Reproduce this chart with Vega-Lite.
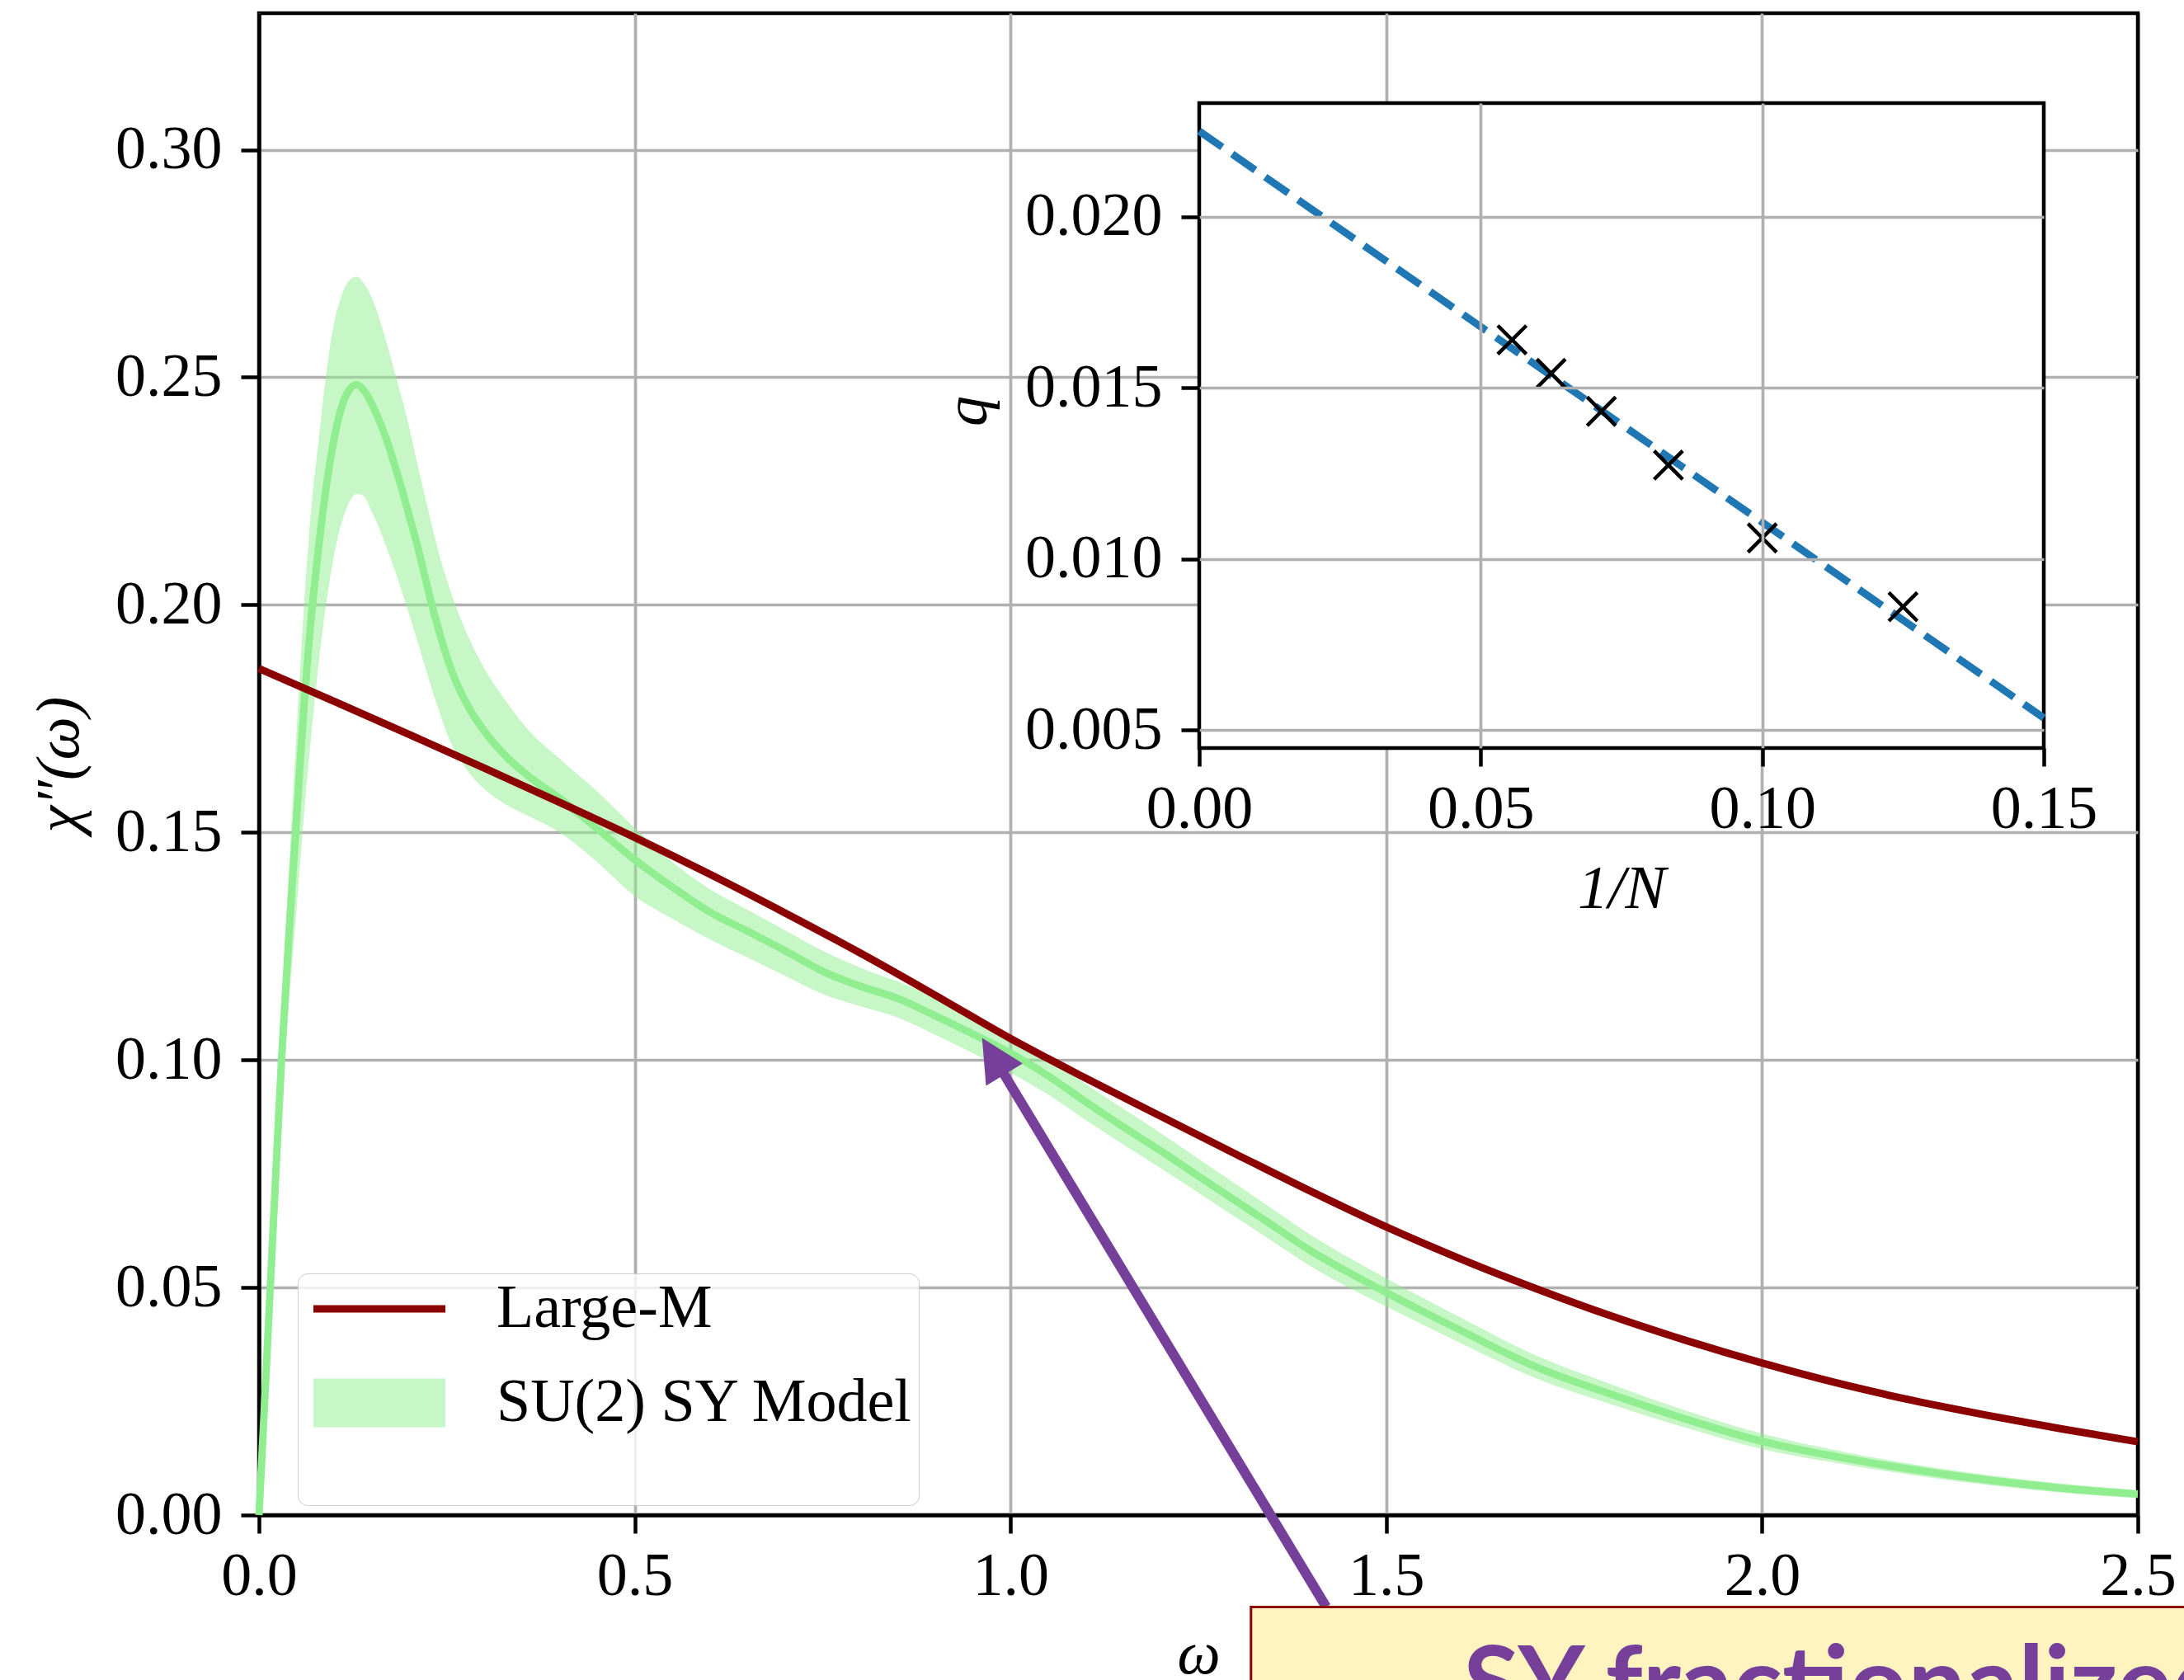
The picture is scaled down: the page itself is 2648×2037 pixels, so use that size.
{
  "$schema": "https://vega.github.io/schema/vega-lite/v6.json",
  "width": 2278,
  "height": 1821,
  "autosize": {"type": "none"},
  "padding": {"left": 314, "top": 16, "right": 56, "bottom": 200},
  "background": "white",
  "config": {
    "view": {"stroke": "black", "strokeWidth": 4.5},
    "font": "Liberation Serif",
    "axis": {
      "labelFont": "Liberation Serif", "labelFontSize": 74, "labelColor": "black",
      "titleFont": "Liberation Serif", "titleFontSize": 74, "titleFontWeight": "normal",
      "titleFontStyle": "italic", "titleColor": "black",
      "tickColor": "black", "tickWidth": 4.5, "tickSize": 22,
      "domainColor": "black", "domainWidth": 4.5,
      "gridColor": "#b0b0b0", "gridWidth": 3.7,
      "labelFlush": false, "labelOverlap": false, "labelBound": false
    }
  },
  "datasets": {
    "largeM": [
      {"w": 0.0, "chi": 0.1860}, {"w": 0.1, "chi": 0.1788}, {"w": 0.2, "chi": 0.1715},
      {"w": 0.3, "chi": 0.1641}, {"w": 0.4, "chi": 0.1566}, {"w": 0.5, "chi": 0.1489},
      {"w": 0.6, "chi": 0.1408}, {"w": 0.7, "chi": 0.1323}, {"w": 0.8, "chi": 0.1235},
      {"w": 0.9, "chi": 0.1142}, {"w": 1.0, "chi": 0.1047}, {"w": 1.1, "chi": 0.0960},
      {"w": 1.2, "chi": 0.0876}, {"w": 1.3, "chi": 0.0793}, {"w": 1.4, "chi": 0.0711},
      {"w": 1.5, "chi": 0.0633}, {"w": 1.6, "chi": 0.0562}, {"w": 1.7, "chi": 0.0497},
      {"w": 1.8, "chi": 0.0437}, {"w": 1.9, "chi": 0.0383}, {"w": 2.0, "chi": 0.0334},
      {"w": 2.1, "chi": 0.0290}, {"w": 2.2, "chi": 0.0252}, {"w": 2.3, "chi": 0.0219},
      {"w": 2.4, "chi": 0.0189}, {"w": 2.5, "chi": 0.0161}
    ],
    "su2": [
      {"w": 0.00, "mid": 0.000, "lo": 0.000, "hi": 0.000},
      {"w": 0.01, "mid": 0.033, "lo": 0.029, "hi": 0.036},
      {"w": 0.02, "mid": 0.067, "lo": 0.060, "hi": 0.073},
      {"w": 0.03, "mid": 0.100, "lo": 0.090, "hi": 0.110},
      {"w": 0.04, "mid": 0.128, "lo": 0.113, "hi": 0.142},
      {"w": 0.05, "mid": 0.153, "lo": 0.133, "hi": 0.172},
      {"w": 0.06, "mid": 0.178, "lo": 0.154, "hi": 0.200},
      {"w": 0.07, "mid": 0.198, "lo": 0.172, "hi": 0.222},
      {"w": 0.08, "mid": 0.2135, "lo": 0.188, "hi": 0.237},
      {"w": 0.09, "mid": 0.2265, "lo": 0.201, "hi": 0.2515},
      {"w": 0.10, "mid": 0.2365, "lo": 0.211, "hi": 0.262},
      {"w": 0.11, "mid": 0.2435, "lo": 0.218, "hi": 0.268},
      {"w": 0.12, "mid": 0.2472, "lo": 0.2225, "hi": 0.2713},
      {"w": 0.13, "mid": 0.2484, "lo": 0.2244, "hi": 0.2721},
      {"w": 0.14, "mid": 0.2470, "lo": 0.2238, "hi": 0.2705},
      {"w": 0.15, "mid": 0.2442, "lo": 0.2205, "hi": 0.2675},
      {"w": 0.16, "mid": 0.2405, "lo": 0.2168, "hi": 0.2630},
      {"w": 0.17, "mid": 0.2362, "lo": 0.2125, "hi": 0.2575},
      {"w": 0.18, "mid": 0.2310, "lo": 0.2080, "hi": 0.2515},
      {"w": 0.19, "mid": 0.2255, "lo": 0.2030, "hi": 0.2455},
      {"w": 0.20, "mid": 0.2195, "lo": 0.1978, "hi": 0.2390},
      {"w": 0.21, "mid": 0.2135, "lo": 0.1925, "hi": 0.2315},
      {"w": 0.22, "mid": 0.2068, "lo": 0.1870, "hi": 0.2245},
      {"w": 0.23, "mid": 0.2000, "lo": 0.1815, "hi": 0.2175},
      {"w": 0.24, "mid": 0.1940, "lo": 0.1765, "hi": 0.2110},
      {"w": 0.25, "mid": 0.1885, "lo": 0.1718, "hi": 0.2055},
      {"w": 0.26, "mid": 0.1840, "lo": 0.1682, "hi": 0.2005},
      {"w": 0.28, "mid": 0.1772, "lo": 0.1630, "hi": 0.1925},
      {"w": 0.30, "mid": 0.1722, "lo": 0.1595, "hi": 0.1860},
      {"w": 0.33, "mid": 0.1665, "lo": 0.1560, "hi": 0.1785},
      {"w": 0.36, "mid": 0.1622, "lo": 0.1535, "hi": 0.1722},
      {"w": 0.40, "mid": 0.1575, "lo": 0.1500, "hi": 0.1662},
      {"w": 0.45, "mid": 0.1508, "lo": 0.1435, "hi": 0.1590},
      {"w": 0.50, "mid": 0.1440, "lo": 0.1360, "hi": 0.1510},
      {"w": 0.55, "mid": 0.1380, "lo": 0.1310, "hi": 0.1435},
      {"w": 0.60, "mid": 0.1325, "lo": 0.1265, "hi": 0.1375},
      {"w": 0.65, "mid": 0.1283, "lo": 0.1225, "hi": 0.1330},
      {"w": 0.70, "mid": 0.1240, "lo": 0.1185, "hi": 0.1285},
      {"w": 0.75, "mid": 0.1195, "lo": 0.1145, "hi": 0.1240},
      {"w": 0.80, "mid": 0.1162, "lo": 0.1118, "hi": 0.1203},
      {"w": 0.85, "mid": 0.1135, "lo": 0.1093, "hi": 0.1172},
      {"w": 0.90, "mid": 0.1097, "lo": 0.1055, "hi": 0.1138},
      {"w": 0.95, "mid": 0.1057, "lo": 0.1015, "hi": 0.1098},
      {"w": 1.00, "mid": 0.1015, "lo": 0.0972, "hi": 0.1055},
      {"w": 1.05, "mid": 0.0965, "lo": 0.0924, "hi": 0.1004},
      {"w": 1.10, "mid": 0.0908, "lo": 0.0868, "hi": 0.0947},
      {"w": 1.15, "mid": 0.0853, "lo": 0.0814, "hi": 0.0893},
      {"w": 1.20, "mid": 0.0800, "lo": 0.0762, "hi": 0.0839},
      {"w": 1.25, "mid": 0.0745, "lo": 0.0708, "hi": 0.0783},
      {"w": 1.30, "mid": 0.0690, "lo": 0.0654, "hi": 0.0727},
      {"w": 1.35, "mid": 0.0635, "lo": 0.0600, "hi": 0.0671},
      {"w": 1.40, "mid": 0.0580, "lo": 0.0546, "hi": 0.0615},
      {"w": 1.45, "mid": 0.0533, "lo": 0.0500, "hi": 0.0566},
      {"w": 1.50, "mid": 0.0489, "lo": 0.0458, "hi": 0.0520},
      {"w": 1.60, "mid": 0.0405, "lo": 0.0377, "hi": 0.0433},
      {"w": 1.70, "mid": 0.0325, "lo": 0.0300, "hi": 0.0350},
      {"w": 1.80, "mid": 0.0265, "lo": 0.0243, "hi": 0.0287},
      {"w": 1.90, "mid": 0.0210, "lo": 0.0191, "hi": 0.0229},
      {"w": 2.00, "mid": 0.0162, "lo": 0.0145, "hi": 0.0179},
      {"w": 2.10, "mid": 0.0128, "lo": 0.0114, "hi": 0.0142},
      {"w": 2.20, "mid": 0.0100, "lo": 0.0088, "hi": 0.0112},
      {"w": 2.30, "mid": 0.0077, "lo": 0.0066, "hi": 0.0088},
      {"w": 2.40, "mid": 0.0059, "lo": 0.0049, "hi": 0.0069},
      {"w": 2.50, "mid": 0.0046, "lo": 0.0037, "hi": 0.0055}
    ],
    "arrow": [
      {"w": 0.977, "chi": 0.1008},
      {"w": 1.42, "chi": -0.0202}
    ],
    "insetPts": [
      {"invN": 0.05556, "q": 0.01640},
      {"invN": 0.0625, "q": 0.01542},
      {"invN": 0.07143, "q": 0.01431},
      {"invN": 0.08333, "q": 0.01274},
      {"invN": 0.1, "q": 0.01061},
      {"invN": 0.125, "q": 0.00860}
    ],
    "fit": [
      {"invN": 0.0, "q": 0.0225},
      {"invN": 0.15, "q": 0.00535}
    ]
  },
  "layer": [
    {
      "layer": [
        {
          "data": {"name": "su2"},
          "mark": {"type": "area", "opacity": 0.5, "interpolate": "monotone"},
          "encoding": {
            "x": {
              "field": "w", "type": "quantitative",
              "scale": {"domain": [0, 2.5], "nice": false, "zero": false},
              "axis": {
                "orient": "bottom",
                "values": [0, 0.5, 1, 1.5, 2, 2.5], "format": ".1f",
                "labelPadding": 16, "title": "ω", "titleY": 191, "titleBaseline": "alphabetic",
                "gridColor": {"condition": {"test": "datum.value >= 2.5", "value": "black"}, "value": "#b0b0b0"}
              }
            },
            "y": {
              "field": "lo", "type": "quantitative",
              "scale": {"domain": [0, 0.33], "nice": false, "zero": false},
              "axis": {
                "orient": "left",
                "values": [0, 0.05, 0.1, 0.15, 0.2, 0.25, 0.3], "format": ".2f",
                "labelPadding": 23, "title": "χ″(ω)", "titleX": -220, "titleBaseline": "alphabetic"
              }
            },
            "y2": {"field": "hi"},
            "fill": {
              "datum": "SU(2) SY Model", "type": "nominal",
              "scale": {"domain": ["Large-M", "SU(2) SY Model"], "range": ["transparent", "#90ee90"]},
              "legend": {
                "orient": "none", "legendX": 47, "legendY": 1528,
                "title": null, "direction": "vertical",
                "labelFont": "Liberation Serif", "labelFontSize": 74, "labelColor": "black", "labelLimit": 2000,
                "symbolType": "M-2.712,0L2.712,0", "symbolSize": 3481, "symbolOpacity": 1,
                "symbolOffset": 34, "labelOffset": 83, "rowPadding": -41, "padding": 6,
                "strokeColor": "#cccccc", "fillColor": "rgba(255,255,255,0.8)", "cornerRadius": 12
              }
            }
          }
        },
        {
          "data": {"name": "su2"},
          "mark": {"type": "line", "color": "#90ee90", "strokeWidth": 9, "interpolate": "monotone"},
          "encoding": {
            "x": {"field": "w", "type": "quantitative", "axis": null},
            "y": {"field": "mid", "type": "quantitative", "axis": null}
          }
        },
        {
          "data": {"name": "largeM"},
          "mark": {"type": "line", "interpolate": "monotone"},
          "encoding": {
            "x": {"field": "w", "type": "quantitative", "axis": null},
            "y": {"field": "chi", "type": "quantitative", "axis": null},
            "color": {
              "datum": "Large-M", "type": "nominal",
              "scale": {"domain": ["Large-M", "SU(2) SY Model"], "range": ["#8b0000", "#c7f6c7"]},
              "legend": {
                "orient": "none", "legendX": 47, "legendY": 1528,
                "title": null, "direction": "vertical",
                "labelFont": "Liberation Serif", "labelFontSize": 74, "labelColor": "black", "labelLimit": 2000,
                "symbolType": "M-2.712,0L2.712,0", "symbolSize": 3481, "symbolOpacity": 1,
                "symbolOffset": 34, "labelOffset": 83, "rowPadding": -41, "padding": 6,
                "strokeColor": "#cccccc", "fillColor": "rgba(255,255,255,0.8)", "cornerRadius": 12
              }
            },
            "strokeWidth": {
              "datum": "Large-M", "type": "ordinal",
              "scale": {"domain": ["Large-M", "SU(2) SY Model"], "range": [9, 59]},
              "legend": {
                "orient": "none", "legendX": 47, "legendY": 1528,
                "title": null, "direction": "vertical",
                "labelFont": "Liberation Serif", "labelFontSize": 74, "labelColor": "black", "labelLimit": 2000,
                "symbolType": "M-2.712,0L2.712,0", "symbolSize": 3481, "symbolOpacity": 1,
                "symbolOffset": 34, "labelOffset": 83, "rowPadding": -41, "padding": 6,
                "strokeColor": "#cccccc", "fillColor": "rgba(255,255,255,0.8)", "cornerRadius": 12
              }
            }
          }
        },
        {
          "data": {"name": "arrow"},
          "mark": {"type": "line", "color": "#753f9a", "strokeWidth": 12},
          "encoding": {
            "x": {"field": "w", "type": "quantitative", "axis": null},
            "y": {"field": "chi", "type": "quantitative", "axis": null}
          }
        },
        {
          "data": {"values": [{}]},
          "mark": {"type": "point", "shape": "M0,-1L1,1L-1,1Z", "filled": true, "color": "#753f9a", "opacity": 1, "size": 2704, "angle": 328.7},
          "encoding": {
            "x": {"datum": 0.977, "type": "quantitative", "axis": null},
            "y": {"datum": 0.1008, "type": "quantitative", "axis": null}
          }
        },
        {
          "data": {"values": [{}]},
          "mark": {"type": "rect", "fill": "#fff4c0", "stroke": "#8b0000", "strokeWidth": 3},
          "encoding": {
            "x": {"datum": 1.32, "type": "quantitative", "axis": null},
            "x2": {"datum": 2.8},
            "y": {"datum": -0.0202, "type": "quantitative", "axis": null},
            "y2": {"datum": -0.07}
          }
        },
        {
          "data": {"values": [{}]},
          "mark": {"type": "text", "text": "SY fractionalized", "font": "Lato", "fontWeight": "bold", "fontSize": 125, "color": "#753f9a", "align": "left", "baseline": "alphabetic"},
          "encoding": {
            "x": {"datum": 1.6023, "type": "quantitative", "axis": null},
            "y": {"datum": -0.0449, "type": "quantitative", "axis": null}
          }
        }
      ],
      "resolve": {"axis": {"x": "independent", "y": "independent"}}
    },
    {
      "layer": [
        {
          "data": {"values": [{}]},
          "mark": {"type": "rect", "fill": "white", "stroke": "black", "strokeWidth": 4.5},
          "encoding": {
            "x": {
              "datum": 0, "type": "quantitative",
              "scale": {"domain": [0, 0.15], "range": [1140, 2164], "nice": false, "zero": false},
              "axis": {"orient": "top", "values": [0.05, 0.1], "grid": true, "domain": false, "ticks": false, "labels": false, "title": null, "zindex": 1}
            },
            "x2": {"datum": 0.15},
            "y": {
              "datum": 0.00447, "type": "quantitative",
              "scale": {"domain": [0.00447, 0.02332], "range": [891, 109], "nice": false, "zero": false},
              "axis": {
                "orient": "left", "offset": -1140, "values": [0.005, 0.01, 0.015, 0.02], "format": ".3f",
                "grid": true, "domain": false, "labelPadding": 23,
                "title": "q", "titleX": -259, "titleY": 482, "titleBaseline": "alphabetic", "zindex": 1
              }
            },
            "y2": {"datum": 0.02332}
          }
        },
        {
          "data": {"name": "fit"},
          "mark": {"type": "line", "color": "#1f77b4", "strokeWidth": 9, "strokeDash": [34, 14.7]},
          "encoding": {
            "x": {
              "field": "invN", "type": "quantitative",
              "axis": {
                "orient": "bottom", "offset": -930, "values": [0, 0.05, 0.1, 0.15], "format": ".2f",
                "grid": false, "domain": false, "labelPadding": 16,
                "title": "1/N", "titleY": 193, "titleBaseline": "alphabetic", "zindex": 1
              }
            },
            "y": {"field": "q", "type": "quantitative", "axis": null}
          }
        },
        {
          "data": {"name": "insetPts"},
          "mark": {"type": "point", "shape": "M-1,-1L1,1M-1,1L1,-1", "filled": false, "stroke": "black", "strokeWidth": 4.5, "size": 1200, "opacity": 1},
          "encoding": {
            "x": {"field": "invN", "type": "quantitative", "axis": null},
            "y": {"field": "q", "type": "quantitative", "axis": null}
          }
        }
      ],
      "resolve": {"axis": {"x": "independent", "y": "independent"}}
    }
  ],
  "resolve": {
    "scale": {"x": "independent", "y": "independent"},
    "axis": {"x": "independent", "y": "independent"}
  }
}
